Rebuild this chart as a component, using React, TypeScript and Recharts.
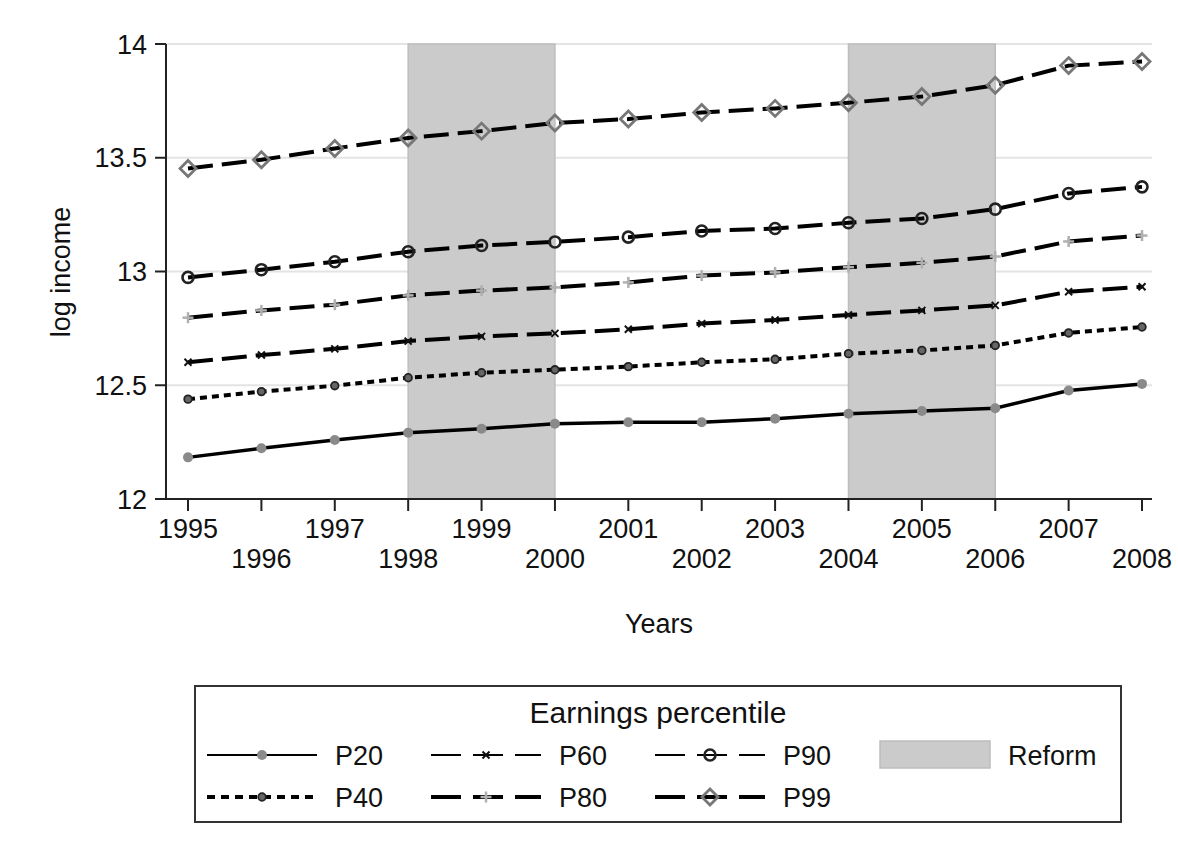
import React from 'react'
import { ComposedChart, Line, XAxis, YAxis, CartesianGrid, ReferenceArea } from 'recharts'

const FONT = '"Liberation Sans", Arial, Helvetica, sans-serif'

const years = [1995, 1996, 1997, 1998, 1999, 2000, 2001, 2002, 2003, 2004, 2005, 2006, 2007, 2008]
const p20 = [12.183, 12.223, 12.259, 12.291, 12.309, 12.331, 12.337, 12.337, 12.353, 12.375, 12.387, 12.399, 12.477, 12.506]
const p40 = [12.439, 12.472, 12.498, 12.533, 12.555, 12.568, 12.582, 12.601, 12.614, 12.639, 12.653, 12.675, 12.73, 12.756]
const p60 = [12.601, 12.633, 12.66, 12.694, 12.715, 12.728, 12.746, 12.771, 12.787, 12.809, 12.829, 12.851, 12.911, 12.933]
const p80 = [12.797, 12.829, 12.854, 12.895, 12.916, 12.93, 12.952, 12.982, 12.996, 13.019, 13.038, 13.066, 13.132, 13.158]
const p90 = [12.974, 13.008, 13.043, 13.087, 13.114, 13.13, 13.151, 13.178, 13.189, 13.214, 13.233, 13.274, 13.343, 13.372]
const p99 = [13.453, 13.491, 13.541, 13.587, 13.617, 13.653, 13.67, 13.699, 13.717, 13.742, 13.769, 13.819, 13.905, 13.923]
const yTicks = [12, 12.5, 13, 13.5, 14]
const reformStart = [1998, 2004]
const reformEnd = [2000, 2006]

type MarkerKind = 'disc' | 'dot' | 'cross' | 'plus' | 'ring' | 'diamond'

const SERIES: { key: string; values: number[]; dash?: string; legendDash?: string; width: number; legendWidth: number; marker: MarkerKind }[] = [
  { key: 'P20', values: p20, width: 3.5, legendWidth: 2, marker: 'disc' },
  { key: 'P40', values: p40, dash: '7 5', legendDash: '8 6', width: 4, legendWidth: 4, marker: 'dot' },
  { key: 'P60', values: p60, dash: '25 9', legendDash: '30 12', width: 4, legendWidth: 2, marker: 'cross' },
  { key: 'P80', values: p80, dash: '25 9', legendDash: '30 12', width: 4, legendWidth: 4, marker: 'plus' },
  { key: 'P90', values: p90, dash: '25 9', legendDash: '30 12', width: 4, legendWidth: 2, marker: 'ring' },
  { key: 'P99', values: p99, dash: '25 9', legendDash: '30 12', width: 4, legendWidth: 4, marker: 'diamond' },
]

const data = years.map((year, i) => {
  const row: Record<string, number> = { year }
  SERIES.forEach(s => { row[s.key] = s.values[i] })
  return row
})

function Marker({ kind, cx, cy }: { kind: MarkerKind; cx: number; cy: number }) {
  if (kind === 'disc') return <circle cx={cx} cy={cy} r={5} fill="#8a8a8a" />
  if (kind === 'dot') return <circle cx={cx} cy={cy} r={3.8} fill="#666" stroke="#222" strokeWidth={1.8} />
  if (kind === 'cross') {
    return (
      <g stroke="#111" strokeWidth={2}>
        <line x1={cx - 3.5} y1={cy - 3.5} x2={cx + 3.5} y2={cy + 3.5} />
        <line x1={cx - 3.5} y1={cy + 3.5} x2={cx + 3.5} y2={cy - 3.5} />
      </g>
    )
  }
  if (kind === 'plus') {
    return (
      <g stroke="#b0b0b0" strokeWidth={2.5}>
        <line x1={cx - 5.5} y1={cy} x2={cx + 5.5} y2={cy} />
        <line x1={cx} y1={cy - 5.5} x2={cx} y2={cy + 5.5} />
      </g>
    )
  }
  if (kind === 'ring') return <circle cx={cx} cy={cy} r={5.5} fill="none" stroke="#222" strokeWidth={2.6} />
  return (
    <polygon
      points={`${cx},${cy - 8} ${cx + 8},${cy} ${cx},${cy + 8} ${cx - 8},${cy}`}
      fill="none"
      stroke="#777"
      strokeWidth={2.8}
    />
  )
}

function YearTick(props: any) {
  const { x, y, payload } = props
  const lower = (payload.value - years[0]) % 2 === 1
  return (
    <text x={x} y={y} dy={lower ? 55 : 25} textAnchor="middle" fontSize={27} fill="#111" fontFamily={FONT}>
      {payload.value}
    </text>
  )
}

function Legend() {
  const cols = [13, 237, 461]
  const rows = [70, 112]
  return (
    <g transform="translate(194,685)">
      <rect x={1} y={1} width={926} height={136} fill="#fff" stroke="#333" strokeWidth={2} />
      <text x={464} y={38} textAnchor="middle" fontSize={30} fill="#111" fontFamily={FONT}>
        Earnings percentile
      </text>
      {SERIES.map((s, i) => {
        const x = cols[Math.floor(i / 2)]
        const y = rows[i % 2]
        return (
          <g key={s.key}>
            <line x1={x} y1={y} x2={x + 110} y2={y} stroke="#000" strokeWidth={s.legendWidth} strokeDasharray={s.legendDash} />
            <Marker kind={s.marker} cx={x + 55} cy={y} />
            <text x={x + 128} y={y} dy="0.36em" fontSize={27} fill="#111" fontFamily={FONT}>
              {s.key}
            </text>
          </g>
        )
      })}
      <rect x={686} y={56} width={110} height={27} fill="#cbcbcb" stroke="#bdbdbd" strokeWidth={1.5} />
      <text x={814} y={70} dy="0.36em" fontSize={27} fill="#111" fontFamily={FONT}>
        Reform
      </text>
    </g>
  )
}

export default function App() {
  return (
    <div style={{ position: 'absolute', left: 0, top: 0, width: 1178, height: 851, background: '#fff' }}>
      <ComposedChart width={1178} height={640} data={data} margin={{ top: 44, right: 26, bottom: 0, left: 106 }}>
        <CartesianGrid vertical={false} stroke="#e4e4e4" strokeWidth={2} />
        {reformStart.map((start, i) => (
          <ReferenceArea
            key={start}
            x1={start}
            x2={reformEnd[i]}
            y1={12}
            y2={14}
            fill="#cbcbcb"
            fillOpacity={1}
            stroke="#bdbdbd"
            strokeWidth={1.5}
            ifOverflow="visible"
          />
        ))}
        <XAxis
          dataKey="year"
          type="number"
          domain={[1994.7, 2008.136]}
          allowDataOverflow
          ticks={years}
          interval={0}
          tick={<YearTick />}
          tickSize={12}
          tickMargin={2}
          height={141}
          stroke="#222"
          strokeWidth={2}
        />
        <YAxis
          domain={[12, 14]}
          ticks={yTicks}
          allowDataOverflow
          width={60}
          tickSize={11}
          tickMargin={8}
          tick={{ fontSize: 27, fill: '#111', fontFamily: FONT }}
          stroke="#222"
          strokeWidth={2}
        />
        {SERIES.map(s => (
          <Line
            key={s.key}
            dataKey={s.key}
            stroke="#000"
            strokeWidth={s.width}
            strokeDasharray={s.dash}
            dot={(p: any) => <Marker key={`${s.key}-${p.index}`} kind={s.marker} cx={p.cx} cy={p.cy} />}
            activeDot={false}
            isAnimationActive={false}
          />
        ))}
      </ComposedChart>
      <svg width={1178} height={851} style={{ position: 'absolute', left: 0, top: 0, pointerEvents: 'none' }}>
        <text x={60} y={272} transform="rotate(-90 60 272)" textAnchor="middle" dy="0.36em" fontSize={27} fill="#111" fontFamily={FONT}>
          log income
        </text>
        <text x={659} y={633} textAnchor="middle" fontSize={27} fill="#111" fontFamily={FONT}>
          Years
        </text>
        <Legend />
      </svg>
    </div>
  )
}
